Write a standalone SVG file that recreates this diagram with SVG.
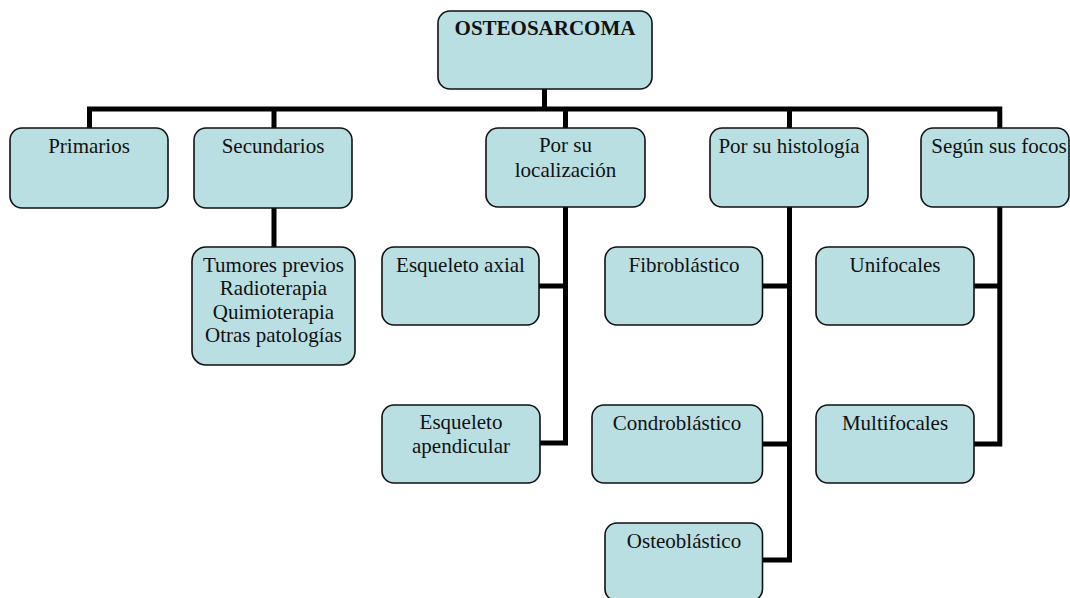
<svg xmlns="http://www.w3.org/2000/svg" width="1070" height="598" viewBox="0 0 1070 598">
<style>
.box{fill:#b9dfe2;stroke:#111;stroke-width:1.6}
.t{font-family:"Liberation Serif","Times New Roman",serif;font-size:21px;fill:#111;text-anchor:middle}
.b{font-weight:bold}
.c{fill:none;stroke:#000;stroke-width:5;stroke-linejoin:miter;stroke-linecap:butt}
</style>
<rect width="1070" height="598" fill="#fff"/>
<g id="connectors">
<path class="c" d="M544.5,89 V109"/>
<path class="c" d="M89.5,128 V109 H999.8 V128"/>
<path class="c" d="M274,109 V128"/>
<path class="c" d="M565.5,109 V128"/>
<path class="c" d="M789.5,109 V128"/>
<path class="c" d="M274,208 V247"/>
<path class="c" d="M565.5,207 V443 H540"/>
<path class="c" d="M565.5,286 H539"/>
<path class="c" d="M789.5,207 V560 H762"/>
<path class="c" d="M789.5,286 H762"/>
<path class="c" d="M789.5,444 H762"/>
<path class="c" d="M999.8,207 V444 H974"/>
<path class="c" d="M999.8,286 H974"/>
</g>
<g id="osteosarcoma"><rect class="box" x="438" y="11" width="214" height="78" rx="12"/><text class="t b" x="545" y="35">OSTEOSARCOMA</text></g>
<g id="primarios"><rect class="box" x="10" y="128" width="158" height="80" rx="12"/><text class="t" x="89" y="153">Primarios</text></g>
<g id="secundarios"><rect class="box" x="194" y="128" width="158" height="80" rx="12"/><text class="t" x="273" y="153">Secundarios</text></g>
<g id="localizacion"><rect class="box" x="486" y="128" width="159" height="79" rx="12"/><text class="t" x="565.5" y="152">Por su</text><text class="t" x="565.5" y="176.5">localización</text></g>
<g id="histologia"><rect class="box" x="710" y="128" width="158" height="79" rx="12"/><text class="t" x="789" y="153">Por su histología</text></g>
<g id="focos"><rect class="box" x="921" y="128" width="148" height="79" rx="12"/><text class="t" x="999" y="153">Según sus focos</text></g>
<g id="secundarios-lista"><rect class="box" x="192" y="247" width="163" height="118" rx="14"/><text class="t" x="273.5" y="271.7">Tumores previos</text><text class="t" x="273.5" y="295.2">Radioterapia</text><text class="t" x="273.5" y="318.6">Quimioterapia</text><text class="t" x="273.5" y="342">Otras patologías</text></g>
<g id="axial"><rect class="box" x="382" y="247" width="157" height="78" rx="12"/><text class="t" x="460.5" y="271.7">Esqueleto axial</text></g>
<g id="apendicular"><rect class="box" x="382" y="405" width="158" height="78" rx="12"/><text class="t" x="461" y="428.5">Esqueleto</text><text class="t" x="461" y="453">apendicular</text></g>
<g id="fibroblastico"><rect class="box" x="605" y="247" width="157.5" height="78" rx="12"/><text class="t" x="684" y="271.7">Fibroblástico</text></g>
<g id="condroblastico"><rect class="box" x="592" y="405" width="170.5" height="78" rx="12"/><text class="t" x="677" y="430">Condroblástico</text></g>
<g id="osteoblastico"><rect class="box" x="605" y="523" width="157.5" height="78" rx="12"/><text class="t" x="684" y="548">Osteoblástico</text></g>
<g id="unifocales"><rect class="box" x="816" y="247" width="158" height="78" rx="12"/><text class="t" x="895" y="271.7">Unifocales</text></g>
<g id="multifocales"><rect class="box" x="816" y="405" width="158" height="78" rx="12"/><text class="t" x="895" y="430">Multifocales</text></g>
</svg>
